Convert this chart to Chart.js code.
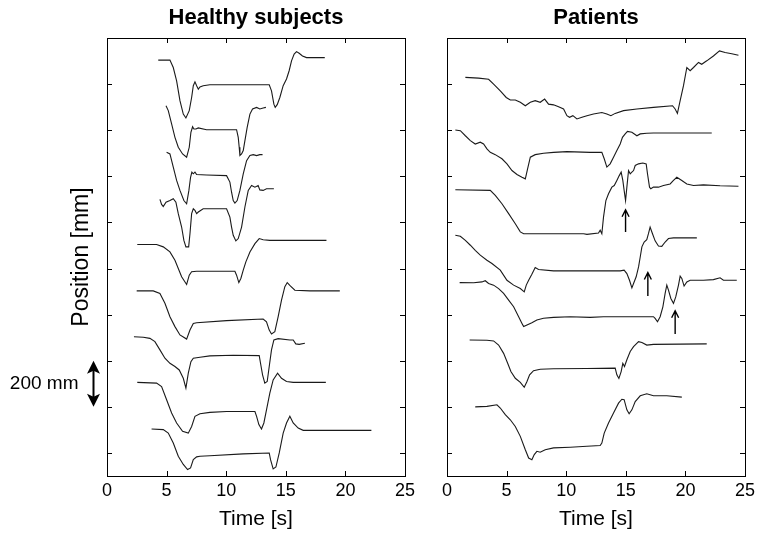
<!DOCTYPE html>
<html>
<head>
<meta charset="utf-8">
<script src="https://cdn.jsdelivr.net/npm/chart.js@4.4.1/dist/chart.umd.min.js"></script>
<style>
  html, body { margin: 0; padding: 0; background: #fff; }
  #wrap { position: relative; width: 763px; height: 541px; background: #fff; }
  #healthy { position: absolute; left: 0; top: 0; }
  #patients { position: absolute; left: 425px; top: 0; }
</style>
</head>
<body>
<div id="wrap">
  <canvas id="healthy" width="425" height="541"></canvas>
  <canvas id="patients" width="338" height="541"></canvas>
</div>
<script>
// traces as [time s, position mm] (traces are stacked)
const healthy1 = [[4.30,1704],[5.28,1704],[5.56,1672],[5.84,1614],[6.12,1528],[6.40,1470],[6.62,1453],[6.90,1485],[7.10,1542],[7.24,1593],[7.38,1610],[7.52,1593],[7.66,1578],[7.80,1588],[8.07,1593],[8.63,1597],[13.61,1597],[13.80,1571],[14.00,1513],[14.11,1499],[14.28,1511],[14.50,1542],[14.78,1593],[15.06,1622],[15.28,1658],[15.48,1701],[15.70,1730],[15.90,1741],[16.12,1734],[16.40,1722],[16.74,1715],[18.27,1715]];
const healthy2 = [[4.95,1506],[5.14,1485],[5.42,1427],[5.70,1369],[5.98,1326],[6.34,1297],[6.68,1283],[6.90,1326],[7.04,1391],[7.18,1415],[7.29,1405],[7.46,1405],[7.66,1410],[8.35,1402],[10.87,1402],[11.01,1369],[11.09,1326],[11.15,1290],[11.29,1297],[11.43,1312],[11.57,1355],[11.76,1412],[11.99,1470],[12.21,1492],[12.55,1499],[12.82,1492],[13.10,1496],[13.33,1499]];
const healthy3 = [[5.00,1304],[5.28,1297],[5.56,1240],[5.84,1182],[6.12,1139],[6.45,1095],[6.68,1081],[6.87,1139],[7.01,1196],[7.12,1218],[7.24,1211],[7.38,1218],[7.52,1208],[8.35,1206],[10.03,1203],[10.31,1175],[10.45,1131],[10.59,1095],[10.73,1084],[10.92,1095],[11.15,1139],[11.43,1211],[11.71,1268],[11.99,1290],[12.27,1294],[12.55,1290],[12.82,1294],[13.05,1294]];
const healthy4 = [[4.44,1100],[4.58,1078],[4.72,1069],[4.95,1088],[5.28,1095],[5.56,1103],[5.78,1088],[5.98,1038],[6.26,980],[6.45,922],[6.62,894],[6.85,894],[6.96,951],[7.10,1038],[7.24,1059],[7.38,1052],[7.52,1038],[7.66,1045],[7.85,1052],[8.07,1059],[10.03,1059],[10.31,1023],[10.45,980],[10.59,944],[10.81,920],[11.01,930],[11.29,980],[11.57,1067],[11.85,1139],[12.13,1160],[12.41,1153],[12.68,1160],[12.82,1141],[13.10,1139],[13.38,1146],[14.00,1146]];
const healthy5 = [[2.54,904],[4.16,904],[4.72,894],[5.28,872],[5.70,836],[6.26,764],[6.68,731],[6.90,771],[7.10,786],[7.52,788],[10.73,788],[10.87,771],[11.06,739],[11.23,757],[11.43,793],[11.65,829],[11.99,872],[12.41,908],[12.77,930],[13.10,925],[13.66,922],[18.41,922]];
const healthy6 = [[2.49,703],[3.88,703],[4.44,692],[4.86,649],[5.28,591],[5.70,548],[6.12,512],[6.68,494],[6.96,533],[7.24,562],[7.52,565],[10.03,574],[13.10,581],[13.38,569],[13.61,533],[13.80,516],[14.08,526],[14.36,591],[14.64,663],[14.92,721],[15.12,739],[15.40,724],[15.76,706],[17.02,703],[19.53,703]];
const healthy7 = [[2.26,504],[3.05,502],[3.60,497],[4.02,483],[4.44,447],[4.86,411],[5.28,389],[5.70,375],[6.06,360],[6.40,324],[6.62,281],[6.82,346],[7.04,396],[7.24,411],[7.80,415],[8.63,421],[10.59,424],[12.77,422],[12.88,389],[13.05,339],[13.24,303],[13.44,310],[13.61,375],[13.80,447],[14.00,490],[14.36,496],[15.34,490],[15.62,490],[15.84,473],[16.12,471],[16.60,476]];
const healthy8 = [[2.54,306],[4.16,303],[4.58,288],[5.00,231],[5.42,173],[5.84,130],[6.34,94],[6.82,86],[7.10,115],[7.38,159],[7.80,170],[8.63,176],[10.03,180],[12.41,180],[12.55,159],[12.74,123],[12.96,104],[13.16,130],[13.38,187],[13.66,259],[13.94,317],[14.31,346],[14.64,324],[15.06,310],[15.62,306],[18.36,306]];
const healthy9 = [[3.74,104],[4.72,101],[5.14,86],[5.56,43],[5.98,-14],[6.40,-50],[6.76,-72],[7.01,-65],[7.24,-29],[7.52,-17],[7.80,-14],[8.63,-12],[11.43,-4],[13.61,0],[13.72,-29],[13.94,-69],[14.17,-61],[14.45,0],[14.78,86],[15.06,130],[15.34,159],[15.62,130],[16.04,108],[16.46,98],[22.18,98]];

const patient1 = [[1.54,1629],[2.65,1626],[3.49,1621],[3.91,1600],[4.47,1571],[4.97,1542],[5.31,1531],[5.73,1531],[6.15,1521],[6.57,1506],[6.99,1521],[7.40,1528],[7.82,1521],[8.19,1535],[8.52,1513],[8.94,1510],[9.36,1502],[9.78,1492],[10.06,1463],[10.28,1456],[10.56,1463],[10.90,1449],[11.32,1456],[11.74,1463],[12.29,1470],[12.99,1477],[13.41,1470],[13.75,1463],[14.11,1473],[14.81,1485],[15.93,1492],[17.32,1499],[18.92,1506],[19.14,1492],[19.33,1473],[19.56,1528],[19.84,1593],[20.12,1672],[20.40,1658],[20.68,1672],[21.10,1694],[21.37,1686],[21.79,1701],[22.35,1722],[22.86,1744],[23.33,1737],[23.89,1732],[24.45,1725]];
const patient2 = [[0.70,1401],[1.12,1398],[1.54,1376],[1.96,1355],[2.37,1340],[2.79,1348],[3.07,1340],[3.35,1319],[3.63,1304],[4.05,1294],[4.61,1276],[5.03,1254],[5.45,1225],[5.87,1208],[6.29,1196],[6.57,1189],[6.76,1232],[6.99,1283],[7.40,1294],[8.10,1300],[8.94,1304],[10.06,1307],[12.01,1304],[12.99,1304],[13.19,1276],[13.41,1240],[13.69,1254],[13.97,1283],[14.25,1312],[14.53,1340],[14.72,1369],[14.95,1384],[15.14,1395],[15.51,1391],[15.93,1376],[16.21,1384],[16.76,1387],[17.32,1388],[22.21,1388]];
const patient3 = [[0.70,1142],[3.63,1139],[4.05,1117],[4.61,1081],[5.17,1038],[5.73,994],[6.15,959],[6.43,951],[11.46,951],[11.74,948],[12.71,954],[12.85,966],[12.99,951],[13.13,1023],[13.33,1095],[13.55,1124],[13.83,1153],[14.03,1160],[14.25,1182],[14.45,1203],[14.61,1218],[14.75,1182],[14.86,1139],[14.98,1095],[15.09,1153],[15.23,1225],[15.37,1211],[15.51,1218],[15.65,1225],[15.79,1247],[16.07,1254],[16.43,1258],[16.71,1254],[16.82,1211],[16.99,1153],[17.10,1146],[17.32,1153],[17.74,1153],[18.16,1160],[18.72,1167],[19.00,1182],[19.28,1196],[19.70,1182],[20.12,1167],[20.68,1160],[21.51,1163],[22.91,1159],[24.45,1157]];
const patient4 = [[0.70,944],[1.12,940],[1.54,922],[1.96,901],[2.37,879],[2.79,858],[3.35,836],[3.77,822],[4.47,793],[5.03,749],[5.59,728],[6.15,713],[6.48,699],[6.65,728],[6.85,749],[7.12,775],[7.40,804],[7.68,796],[8.94,790],[14.53,790],[14.86,793],[15.09,778],[15.31,749],[15.51,716],[15.65,735],[15.87,764],[16.07,807],[16.21,850],[16.35,894],[16.54,915],[16.76,925],[16.90,951],[17.04,980],[17.24,951],[17.46,920],[17.74,898],[18.02,896],[18.30,915],[18.58,930],[19.00,933],[20.96,933]];
const patient5 = [[1.06,739],[2.24,738],[2.93,742],[3.21,747],[3.49,735],[3.91,728],[4.33,713],[4.75,692],[5.17,663],[5.59,634],[6.01,591],[6.29,562],[6.43,548],[6.71,555],[7.12,565],[7.54,577],[8.10,584],[8.94,588],[10.34,591],[12.01,588],[13.13,591],[17.32,591],[17.46,584],[17.66,569],[17.88,591],[18.11,634],[18.30,692],[18.44,728],[18.58,706],[18.78,670],[19.00,649],[19.19,677],[19.42,728],[19.56,767],[19.70,757],[19.89,724],[20.12,742],[20.40,749],[21.51,749],[22.35,752],[22.91,760],[23.19,749],[24.31,749]];
const patient6 = [[1.90,490],[3.35,489],[3.91,486],[4.33,468],[4.75,432],[5.09,389],[5.36,353],[5.73,324],[6.15,306],[6.48,285],[6.71,310],[6.93,339],[7.26,357],[7.82,363],[8.94,365],[11.74,366],[14.11,368],[14.25,339],[14.42,323],[14.61,353],[14.75,389],[14.89,375],[15.09,404],[15.37,440],[15.65,461],[16.07,483],[16.35,479],[16.76,468],[17.32,471],[21.79,473]];
const patient7 = [[2.37,200],[3.35,202],[4.19,209],[4.47,195],[4.89,166],[5.31,144],[5.73,115],[6.15,72],[6.57,14],[6.85,-22],[7.12,-29],[7.32,-7],[7.54,7],[7.82,3],[8.24,14],[8.94,22],[10.34,25],[11.74,29],[12.85,32],[12.99,43],[13.19,86],[13.55,130],[13.97,173],[14.39,216],[14.67,233],[14.86,231],[15.09,187],[15.28,170],[15.51,187],[15.79,223],[16.21,248],[16.76,257],[17.32,248],[18.44,248],[19.70,242]];

const timeTicks = [0, 5, 10, 15, 20, 25];
const posTicks = [0, 200, 400, 600, 800, 1000, 1200, 1400, 1600];

// arrows in the patients panel: time, tail, tip (mm)
const arrowTimes = [14.98, 16.85, 19.14];
const arrowTails = [958, 681, 516];
const arrowTips = [1055, 783, 617];

// the 200 mm scale bar
const scaleBar = [200, 400];

const FONT = "'Liberation Sans', Arial, Helvetica, sans-serif";
Chart.defaults.font.family = FONT;
Chart.defaults.color = '#000';

function makeSets(list) {
  return list.map(tr => ({
    data: tr.map(p => ({x: p[0], y: p[1]})),
    borderColor: '#1a1a1a',
    borderWidth: 1.1,
    pointRadius: 0,
    tension: 0,
    fill: false
  }));
}

// box with inward ticks on all four sides + panel title
const frame = {
  id: 'frame',
  afterDraw(chart, args, opts) {
    const ctx = chart.ctx, ca = chart.chartArea;
    const xs = chart.scales.x, ys = chart.scales.y;
    ctx.save();
    ctx.strokeStyle = '#000';
    ctx.lineWidth = 1;
    ctx.strokeRect(ca.left + 0.5, ca.top + 0.5, ca.right - ca.left, ca.bottom - ca.top);
    ctx.beginPath();
    timeTicks.forEach(v => {
      if (v <= xs.min || v >= xs.max) return;
      const px = Math.round(xs.getPixelForValue(v)) + 0.5;
      ctx.moveTo(px, ca.bottom); ctx.lineTo(px, ca.bottom - 5);
      ctx.moveTo(px, ca.top); ctx.lineTo(px, ca.top + 5);
    });
    posTicks.forEach(v => {
      if (v <= ys.min || v >= ys.max) return;
      const py = Math.round(ys.getPixelForValue(v)) + 0.5;
      ctx.moveTo(ca.left, py); ctx.lineTo(ca.left + 5, py);
      ctx.moveTo(ca.right, py); ctx.lineTo(ca.right - 5, py);
    });
    ctx.stroke();

    ctx.fillStyle = '#000';
    ctx.font = 'bold 22px ' + FONT;
    ctx.textAlign = 'center';
    ctx.textBaseline = 'middle';
    ctx.fillText(opts.title, (ca.left + ca.right) / 2, 17.5);
    ctx.restore();
  }
};

// "200 mm" double arrow left of the healthy panel
const scaleMark = {
  id: 'scaleMark',
  afterDraw(chart) {
    const ctx = chart.ctx, ys = chart.scales.y, ca = chart.chartArea;
    const yTop = ys.getPixelForValue(scaleBar[1]);
    const yBot = ys.getPixelForValue(scaleBar[0]);
    const x = ca.left - 13.5;
    ctx.save();
    ctx.fillStyle = '#000';
    ctx.strokeStyle = '#000';
    ctx.lineWidth = 2;
    ctx.beginPath();
    ctx.moveTo(x, yTop + 8); ctx.lineTo(x, yBot - 8);
    ctx.stroke();
    ctx.beginPath();
    ctx.moveTo(x, yTop); ctx.lineTo(x - 6.5, yTop + 13); ctx.lineTo(x, yTop + 10); ctx.lineTo(x + 6.5, yTop + 13);
    ctx.closePath(); ctx.fill();
    ctx.beginPath();
    ctx.moveTo(x, yBot); ctx.lineTo(x - 6.5, yBot - 13); ctx.lineTo(x, yBot - 10); ctx.lineTo(x + 6.5, yBot - 13);
    ctx.closePath(); ctx.fill();
    ctx.font = '19px ' + FONT;
    ctx.textAlign = 'right';
    ctx.textBaseline = 'middle';
    ctx.fillText('200 mm', x - 15, (yTop + yBot) / 2);
    ctx.restore();
  }
};

// small up arrows marking the oscillations
const arrows = {
  id: 'arrows',
  afterDatasetsDraw(chart) {
    const ctx = chart.ctx, xs = chart.scales.x, ys = chart.scales.y;
    ctx.save();
    ctx.strokeStyle = '#000';
    ctx.lineWidth = 1.4;
    arrowTimes.forEach((t, i) => {
      const px = xs.getPixelForValue(t);
      const y1 = ys.getPixelForValue(arrowTails[i]);
      const y2 = ys.getPixelForValue(arrowTips[i]);
      ctx.beginPath();
      ctx.moveTo(px, y1); ctx.lineTo(px, y2);
      ctx.moveTo(px - 3.5, y2 + 7); ctx.lineTo(px, y2); ctx.lineTo(px + 3.5, y2 + 7);
      ctx.stroke();
    });
    ctx.restore();
  }
};

function panel(id, traces, o) {
  return new Chart(document.getElementById(id), {
    type: 'line',
    data: { datasets: makeSets(traces) },
    options: {
      responsive: false,
      animation: false,
      devicePixelRatio: 1,
      layout: { padding: o.padding },
      plugins: {
        legend: { display: false },
        tooltip: { enabled: false },
        frame: { title: o.title }
      },
      scales: {
        x: {
          type: 'linear', min: 0, max: 25,
          grid: { display: false, drawTicks: false },
          border: { display: false },
          ticks: { stepSize: 5, padding: 4, font: { size: 18 }, color: '#000' },
          title: { display: true, text: 'Time [s]', font: { size: 21 }, padding: { top: 0, bottom: 9 }, color: '#000' },
          afterFit: s => { s.height = 65; }
        },
        y: {
          type: 'linear', min: -100, max: 1800,
          grid: { display: false, drawTicks: false },
          border: { display: false },
          ticks: { display: false, stepSize: 200 },
          title: { display: !!o.yTitle, text: o.yTitle || '', font: { size: 23 }, padding: 0, color: '#000' },
          afterFit: s => { s.width = o.yWidth; }
        }
      }
    },
    plugins: o.plugins
  });
}

panel('healthy',
  [healthy1, healthy2, healthy3, healthy4, healthy5, healthy6, healthy7, healthy8, healthy9],
  { title: 'Healthy subjects', yTitle: 'Position [mm]', yWidth: 39,
    padding: { left: 68, right: 20, top: 38, bottom: 0 }, plugins: [frame, scaleMark] });

panel('patients',
  [patient1, patient2, patient3, patient4, patient5, patient6, patient7],
  { title: 'Patients', yWidth: 0,
    padding: { left: 22, right: 18, top: 38, bottom: 0 }, plugins: [frame, arrows] });
</script>
</body>
</html>
